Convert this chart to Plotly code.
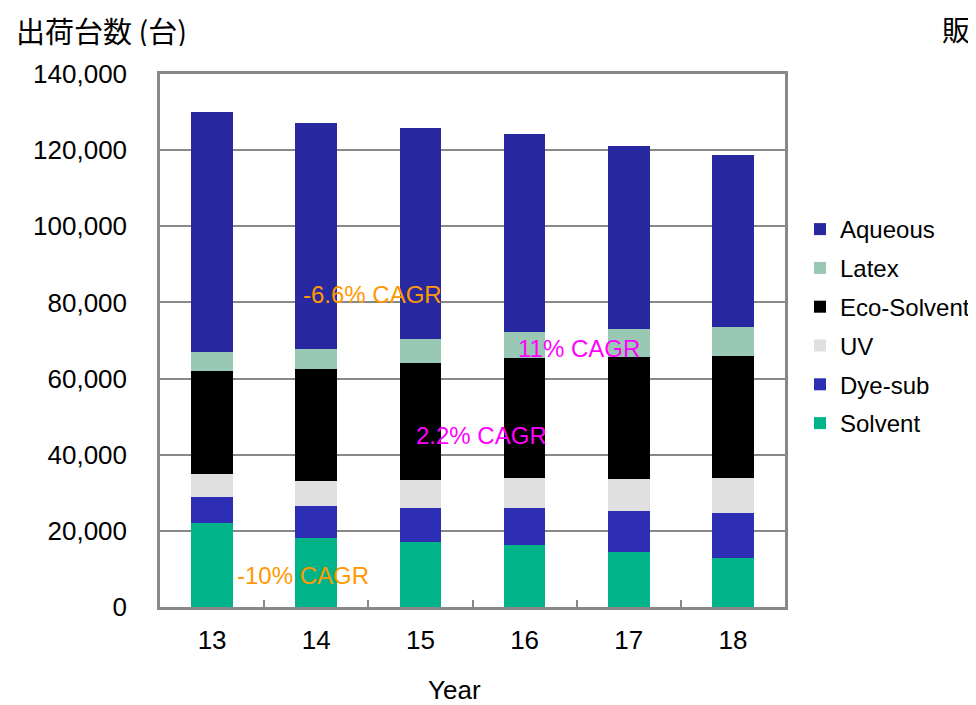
import plotly.graph_objects as go

years = ["13", "14", "15", "16", "17", "18"]
solvent = [22000, 18200, 17200, 16200, 14400, 12900]
dye_sub = [7000, 8300, 8900, 9800, 10800, 11800]
uv = [6000, 6600, 7300, 8000, 8500, 9300]
eco_solvent = [27000, 29400, 30700, 31400, 32000, 32000]
latex = [5000, 5200, 6200, 6900, 7200, 7500]
aqueous = [63000, 59400, 55600, 52000, 48200, 45100]

series = [
    ("Solvent", solvent, "#00B388"),
    ("Dye-sub", dye_sub, "#2E2EB4"),
    ("UV", uv, "#E0E0E0"),
    ("Eco-Solvent", eco_solvent, "#000000"),
    ("Latex", latex, "#99C8B4"),
    ("Aqueous", aqueous, "#2828A0"),
]

FONT = "Liberation Sans, Arial, sans-serif"
GRAY = "#888888"

# page has an 8px body margin; work in screen pixels and convert
OFF = 8
W, H = 976 - OFF, 705 - OFF
PL, PT, PR, PB = 160, 74, 785, 607          # plot area in screen px
L, T = PL - OFF, PT - OFF
R, B = W - (PR - OFF), H - (PB - OFF)
PW, PH = W - L - R, H - T - B

def sx(px):
    return (px - OFF - L) / PW

def sy(py):
    return 1 - (py - OFF - T) / PH

fig = go.Figure()
n = len(series)
for i, (name, vals, col) in enumerate(series):
    fig.add_trace(go.Bar(
        x=years, y=vals, name=name, legendgroup=name, legendrank=n - i,
        marker=dict(color=col, line=dict(width=0)),
    ))

annos = [
    dict(text="-6.6% CAGR", x=0.85, y=82200, color="#FF9900"),
    dict(text="-10% CAGR", x=0.22, y=8300, color="#FF9900"),
    dict(text="2.2% CAGR", x=1.94, y=45000, color="#FF00FF"),
    dict(text="11% CAGR", x=2.92, y=68000, color="#FF00FF"),
]
for a in annos:
    fig.add_annotation(x=a["x"], y=a["y"], xref="x", yref="y", text=a["text"],
                       showarrow=False, xanchor="left", yanchor="middle",
                       font=dict(family=FONT, size=24, color=a["color"]))

fig.add_annotation(x=sx(14), y=sy(30), xref="paper", yref="paper", text="出荷台数 (台)",
                   showarrow=False, xanchor="left", yanchor="middle",
                   height=32, valign="middle",
                   font=dict(family="Noto Sans CJK JP", size=29, color="#000"))
fig.add_annotation(text="Year", x=sx(454), y=sy(690), xref="paper", yref="paper",
                   showarrow=False, xanchor="center", yanchor="middle",
                   font=dict(family=FONT, size=26, color="#000"))
fig.add_annotation(text="販", x=sx(940), y=sy(29), xref="paper", yref="paper",
                   showarrow=False, xanchor="left", yanchor="middle",
                   height=32, valign="middle",
                   font=dict(family="Noto Sans CJK JP", size=28, color="#000"))

fig.update_layout(
    width=W, height=H,
    margin=dict(l=L, r=R, t=T, b=B, autoexpand=False),
    paper_bgcolor="white", plot_bgcolor="white",
    barmode="stack", bargap=0.6,
    font=dict(family=FONT, color="#000"),
    showlegend=True,
    legend=dict(
        x=sx(800), y=sy(207), xanchor="left", yanchor="top",
        traceorder="grouped", tracegroupgap=4.6,
        font=dict(family=FONT, size=24, color="#000"),
        bgcolor="rgba(0,0,0,0)", borderwidth=0,
    ),
    xaxis=dict(
        type="category", range=[-0.5, 5.5],
        showline=True, linecolor=GRAY, linewidth=2.5, mirror=True,
        ticks="inside", tickson="boundaries", ticklen=7, tickwidth=2, tickcolor=GRAY,
        tickfont=dict(family=FONT, size=26, color="#000"),
        ticklabelstandoff=8,
        showgrid=False, zeroline=False,
    ),
    yaxis=dict(
        range=[0, 140000], dtick=20000, tickformat=",",
        showline=True, linecolor=GRAY, linewidth=2.5, mirror=True,
        showgrid=True, gridcolor=GRAY, gridwidth=2,
        ticks="", tickfont=dict(family=FONT, size=26, color="#000"),
        ticklabelstandoff=25,
        zeroline=False,
    ),
)

fig.write_html("out.html")
